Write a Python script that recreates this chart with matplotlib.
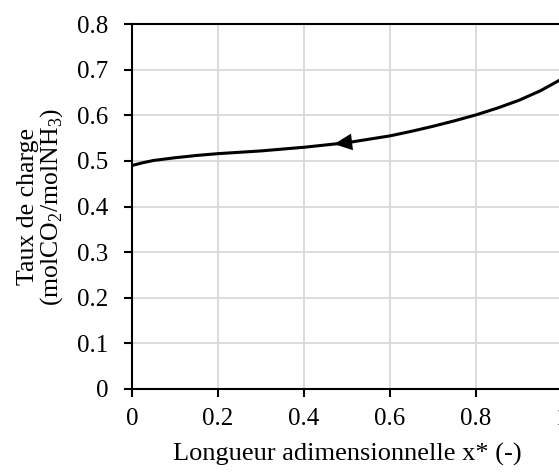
import numpy as np
import matplotlib
matplotlib.use('Agg')
import matplotlib.pyplot as plt

# Loading profile along the column
x_star = [0.0, 0.025, 0.05, 0.1, 0.15, 0.2, 0.3, 0.4, 0.5, 0.6, 0.65, 0.7, 0.75,
          0.8, 0.85, 0.9, 0.95, 1.0]
loading = [0.490, 0.496, 0.501, 0.507, 0.512, 0.516, 0.522, 0.530, 0.540, 0.555,
           0.565, 0.576, 0.588, 0.601, 0.616, 0.633, 0.654, 0.680]

x_ticks = [0, 0.2, 0.4, 0.6, 0.8, 1.0]
x_labels = ['0', '0.2', '0.4', '0.6', '0.8', '1']
y_ticks = [0, 0.1, 0.2, 0.3, 0.4, 0.5, 0.6, 0.7, 0.8]
y_labels = ['0', '0.1', '0.2', '0.3', '0.4', '0.5', '0.6', '0.7', '0.8']

# arrow showing flow direction (from -> to, in x*)
arrow_from, arrow_to = 0.51, 0.47

plt.rcParams['font.family'] = ['Liberation Serif', 'DejaVu Serif']
plt.rcParams['mathtext.fontset'] = 'custom'
plt.rcParams['mathtext.rm'] = 'Liberation Serif'

fig = plt.figure(figsize=(5.59, 4.73), dpi=100)
ax = fig.add_axes([0.236, 0.1776, 0.7694, 0.7714])

ax.plot(x_star, loading, color='black', lw=2.2, solid_capstyle='butt')
ax.annotate('', xy=(arrow_to, np.interp(arrow_to, x_star, loading)),
            xytext=(arrow_from, np.interp(arrow_from, x_star, loading)),
            arrowprops=dict(arrowstyle='-|>,head_length=0.65,head_width=0.3',
                            mutation_scale=20, color='black', lw=0,
                            shrinkA=0, shrinkB=0))

ax.set_xlim(0, 1)
ax.set_ylim(0, 0.8)
ax.set_xticks(x_ticks)
ax.set_xticklabels(x_labels)
ax.set_yticks(y_ticks)
ax.set_yticklabels(y_labels)
ax.grid(True, color='#d9d9d9', lw=1.3)
ax.set_axisbelow(True)
for s in ax.spines.values():
    s.set_linewidth(1.5)
ax.tick_params(axis='both', direction='out', length=6, width=1.5, labelsize=18)
ax.tick_params(axis='y', pad=11)
ax.tick_params(axis='x', pad=8)

ax.set_xlabel('Longueur adimensionnelle x* (-)', fontsize=19, labelpad=9)
ax.set_ylabel('Taux de charge\n(molCO$_2$/molNH$_3$)', fontsize=18.5, labelpad=9,
              linespacing=0.95)

fig.savefig('out.png', dpi=100)
